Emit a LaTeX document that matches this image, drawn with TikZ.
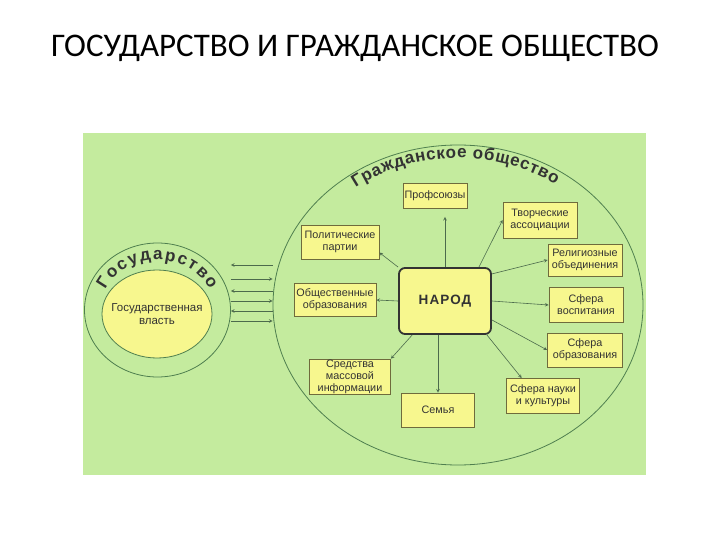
\documentclass[tikz,border=0pt]{standalone}
\usepackage{fontspec}
\setmainfont{Liberation Sans}
\newfontfamily\titlefont{Carlito}
\usetikzlibrary{shapes.geometric,decorations.text}

\definecolor{bggreen}{HTML}{C4EB9E}
\definecolor{boxfill}{HTML}{F7F78E}
\definecolor{boxline}{HTML}{6F6B3C}
\definecolor{ringline}{HTML}{4F7F4F}
\definecolor{arrowline}{HTML}{4C6A4C}
\definecolor{inktext}{HTML}{333333}

\newcommand\curvefont{\fontsize{17}{17}\selectfont\bfseries}

\tikzset{
  orgbox/.style={draw=boxline, fill=boxfill, line width=0.8pt, align=center, inner sep=1pt,
    minimum width=74pt, minimum height=34pt, text=inktext,
    font=\fontsize{10.8}{12}\selectfont},
  peoplebox/.style={draw=black!80, fill=boxfill, line width=1.8pt, rounded corners=6pt,
    minimum width=92pt, minimum height=66pt, text=inktext,
    font=\fontsize{13.5}{15}\selectfont\bfseries\addfontfeatures{LetterSpace=8}},
  ring/.style={ellipse, draw=ringline, line width=0.8pt, inner sep=0pt},
  link/.style={draw=arrowline, line width=0.6pt, ->},
  curved/.style={decorate, decoration={text along path, text align=fit to path,
    text color=inktext, text={#1}}}
}

\begin{document}
\begin{tikzpicture}[x=1pt, y=-1pt, >=stealth]
  \useasboundingbox (0,0) rectangle (720,540);

  \node[font=\titlefont\fontsize{33}{35}\selectfont] (title) at (355,48)
    {ГОСУДАРСТВО И ГРАЖДАНСКОЕ ОБЩЕСТВО};
  \fill[bggreen] (83,133) rectangle (646,475);

  % civil society
  \node[ring, minimum width=370pt, minimum height=320pt] (civil) at (458,305) {};
  \path[curved={|\curvefont|Гражданское общество}]
    (458,305) ++(233:170 and 147) arc[start angle=233, end angle=305, x radius=170, y radius=147];

  % state
  \node[ring, fill=bggreen, minimum width=146pt, minimum height=134pt] (state) at (157.5,310) {};
  \node[ring, fill=boxfill, minimum width=110pt, minimum height=88pt] (power) at (157,314) {};
  \node[align=center, text=inktext, font=\fontsize{11.5}{13}\selectfont] (powertext) at (power)
    {Государственная\\власть};
  \path[curved={|\curvefont|Государство}]
    (157.5,310) ++(204:57 and 50) arc[start angle=204, end angle=336, x radius=57, y radius=50];

  \foreach \yy/\tip in {265/<-, 279/->, 291/<-, 301/->, 311/<-, 321/->}
    \draw[link, \tip] (state.east |- 0,\yy) -- (civil.west |- 0,\yy);

  % boxes
  \node[peoplebox] (narod) at (445,301) {НАРОД};
  \node[orgbox, minimum width=64pt, minimum height=25pt] (prof) at (435,196) {Профсоюзы};
  \node[orgbox, minimum height=36pt] (tvor) at (540,220) {Творческие\\ассоциации};
  \node[orgbox, minimum width=78pt] (polit) at (340,242) {Политические\\партии};
  \node[orgbox, minimum height=32pt] (relig) at (585,260) {Религиозные\\объединения};
  \node[orgbox, minimum width=82pt, minimum height=33pt] (obsh) at (335,300) {Общественные\\образования};
  \node[orgbox, minimum height=35pt] (vosp) at (586,305) {Сфера\\воспитания};
  \node[orgbox, minimum width=75pt] (obraz) at (585,350) {Сфера\\образования};
  \node[orgbox, minimum width=81pt] (smi) at (350,377) {Средства\\массовой\\информации};
  \node[orgbox, minimum width=73pt] (semya) at (438,410) {Семья};
  \node[orgbox, minimum width=73pt, minimum height=35pt] (nauka) at (543,396) {Сфера науки\\и культуры};

  % links
  \draw[link] (narod.north west) -- (polit.-15);
  \draw[link, shorten >=8pt] (narod.north) -- (narod.north |- prof.south);
  \draw[link] (narod.45) -- (tvor.west);
  \draw[link] (narod.30) -- (relig.west);
  \draw[link] (narod.west) -- (obsh.east);
  \draw[link] (narod.east) -- (vosp.west);
  \draw[link] (narod.-22) -- (obraz.west);
  \draw[link] (narod.-39) -- (nauka.140);
  \draw[link] (semya.north |- narod.south) -- (semya.north);
  \draw[link] (narod.226) -- (smi.north east);
\end{tikzpicture}
\end{document}
